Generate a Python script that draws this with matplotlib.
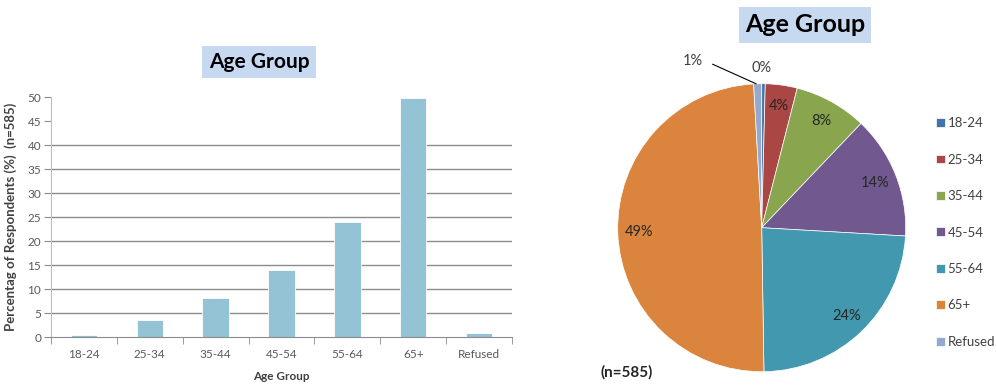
import matplotlib
matplotlib.use("Agg")
import matplotlib.pyplot as plt

plt.rcParams['font.family'] = ['Lato', 'DejaVu Sans']

categories = ["18-24", "25-34", "35-44", "45-54", "55-64", "65+", "Refused"]
values = [0.4, 3.6, 8.2, 13.9, 24.0, 49.7, 0.9]
pie_colors = ["#4572A7", "#AA4643", "#89A54E", "#71588F", "#4198AF", "#DB843D", "#93A9CF"]
bar_color = "#93C3D4"
y_ticks = [0, 5, 10, 15, 20, 25, 30, 35, 40, 45, 50]
grid_levels = [5, 10, 15, 20, 25, 30, 35, 40]

W, H = 997, 387
fig = plt.figure(figsize=(W / 100, H / 100), dpi=100)

def fx(px):
    return px / W

def fy(py):
    return 1 - py / H

# ---------- Bar chart ----------
ax = fig.add_axes([fx(51), fy(337), fx(512) - fx(51), fy(97) - fy(337)])
x = list(range(len(categories)))
for g in grid_levels:
    ax.axhline(g, color="#8C8C8C", lw=1.0, zorder=0)
ax.bar(x, values, width=0.4, color=bar_color, edgecolor="white", linewidth=0.6, zorder=2)
ax.set_xlim(-0.5, len(categories) - 0.5)
ax.set_ylim(0, 50)
ax.set_yticks(y_ticks)
ax.set_xticks(x)
ax.set_xticklabels(categories)
ax.set_xticks([i - 0.5 for i in range(len(categories) + 1)], minor=True)
ax.tick_params(axis="x", which="major", length=0, pad=9, labelsize=8.5, labelcolor="#595959")
ax.tick_params(axis="x", which="minor", length=5, color="#8C8C8C", direction="out")
ax.tick_params(axis="y", length=5, color="#8C8C8C", labelsize=8.5, labelcolor="#595959", pad=2)
for s in ["top", "right"]:
    ax.spines[s].set_visible(False)
ax.spines["left"].set_color("#BFBFBF")
ax.spines["bottom"].set_color("#8C8C8C")
ax.set_ylabel("Percentag of Respondents (%)  (n=585)", fontsize=9.5, fontweight="bold", color="#404040")
ax.yaxis.set_label_coords((17 - 51) / 461, 0.5)
ax.set_xlabel("Age Group", fontsize=8.5, fontweight="bold", color="#404040")
ax.xaxis.label.set_va("center")
ax.xaxis.set_label_coords(0.5, (337 - 377) / 240)

fig.text(fx(259), fy(62), "Age Group", ha="center", va="center", fontsize=15, fontweight="bold",
         bbox=dict(boxstyle="square,pad=0.3", facecolor="#C6D9F1", edgecolor="none"))

# ---------- Pie chart ----------
r = 144
cx, cy = 761.7, 227.7
pax = fig.add_axes([fx(cx - r), fy(cy + r), 2 * r / W, 2 * r / H])
wedges, texts, autotexts = pax.pie(
    values, colors=pie_colors, startangle=90, counterclock=False,
    autopct=lambda p: f"{p:.0f}%", pctdistance=0.85,
    wedgeprops=dict(edgecolor="white", linewidth=0.5),
    textprops=dict(fontsize=10.5, color="#262626"))
pax.set_xlim(-1, 1)
pax.set_ylim(-1, 1)
pax.set_aspect("auto")
pax.axis("off")

# small slice labels
autotexts[0].set_position((0.0, 1.11))
autotexts[0].set_color("#404040")
autotexts[-1].set_position((-0.48, 1.16))
autotexts[-1].set_color("#404040")
pax.plot([-0.34, -0.04], [1.135, 1.0], color="black", lw=0.8, clip_on=False)

leg = pax.legend(wedges, categories, loc="upper left",
                 bbox_to_anchor=((931 - (cx - r)) / (2 * r), (cy + r - 112) / (2 * r)),
                 frameon=False, fontsize=9.5, handlelength=0.65, handleheight=0.65,
                 handletextpad=0.2, labelspacing=1.85, borderaxespad=0)
for t in leg.get_texts():
    t.set_color("#404040")

fig.text(fx(805), fy(25), "Age Group", ha="center", va="center", fontsize=18, fontweight="bold",
         bbox=dict(boxstyle="square,pad=0.25", facecolor="#C6D9F1", edgecolor="none"))
fig.text(fx(627), fy(372), "(n=585)", ha="center", va="center", fontsize=11, fontweight="bold",
         color="#262626")

fig.savefig("out.png", dpi=100)
